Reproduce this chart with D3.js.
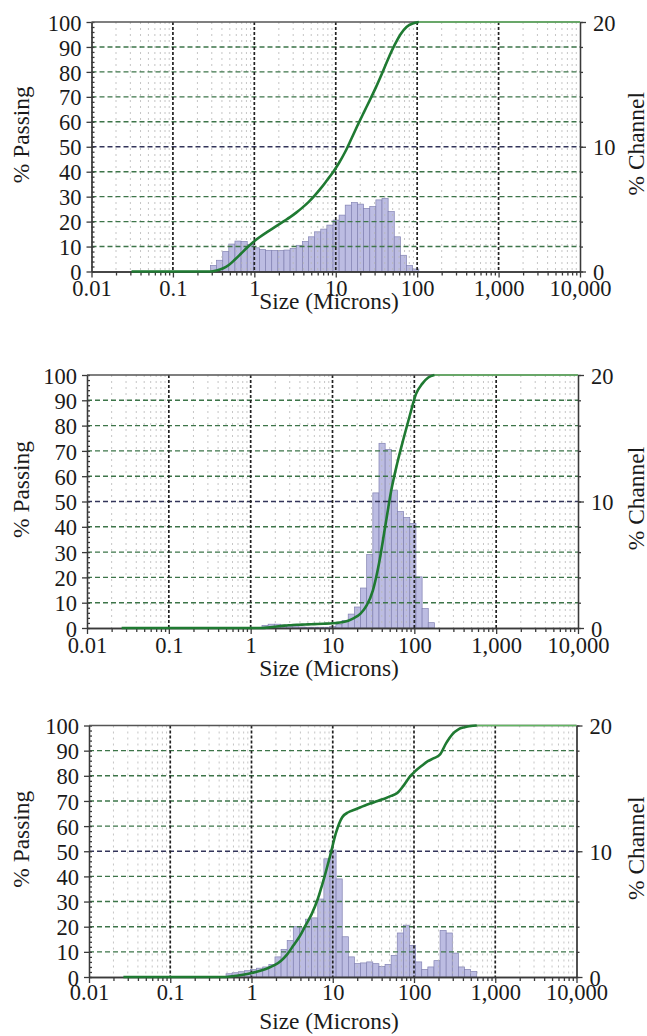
<!DOCTYPE html>
<html>
<head>
<meta charset="utf-8">
<script src="https://cdn.jsdelivr.net/npm/d3@7"></script>
<style>
body{margin:0;background:#fff;}
</style>
</head>
<body>
<svg id="chart" width="647" height="1036"></svg>
<script>
// channel lower edges in microns (bin i spans edges[i]..edges[i+1])
var edges=[0.243,0.289,0.344,0.409,0.486,0.578,0.688,0.818,0.972,1.156,1.375,1.635,1.945,2.312,2.75,3.27,3.889,4.625,5.5,6.541,7.778,9.25,
  11,13.08,15.56,18.5,22,26.16,31.11,37,44,52.33,62.23,74,88,104.7,124.5,148,176,209.3,248.9,296,352,418.6,497.8,592,704];

var xTickValues=[0.01,0.1,1,10,100,1000,10000];
var xTickLabels=["0.01","0.1","1","10","100","1,000","10,000"];
var passTicks=[0,10,20,30,40,50,60,70,80,90,100];
var chanTicks=[0,10,20];

// % channel per bin
var chanTop=[0,0.48,0.9,1.6,2.2,2.44,2.4,2.16,1.9,1.76,1.7,1.68,1.68,1.72,1.84,2.1,2.4,2.78,3.18,3.4,3.72,4.12,
  4.52,5.32,5.52,5.4,5.06,5.2,5.74,5.86,4.8,2.78,1.3,0.48,0.2,0,0,0,0,0,0,0,0,0,0,0];
var chanMid=[0,0,0,0,0,0,0,0,0,0,0.2,0.3,0.3,0.24,0.16,0.1,0.08,0.06,0.06,0.06,0.06,0.12,
  0.3,0.6,1.1,1.66,3.16,5.8,10.68,14.6,14.12,10.9,9.2,8.74,8.26,4.04,1.54,0.42,0,0,0,0,0,0,0,0];
var chanBot=[0,0,0,0,0.26,0.34,0.42,0.5,0.6,0.7,0.8,1.0,1.6,2.2,2.9,4.0,3.9,4.6,4.7,6.2,9.4,10.1,
  7.8,3.2,1.6,1.06,1.12,1.2,1.06,0.84,1.0,1.72,3.5,4.12,2.52,1.2,0.6,0.8,1.3,3.7,3.5,1.9,0.8,0.6,0.44,0];

// % passing at each edge
var passTop=[0,0,0.4,1.2,2.6,4.8,7.2,9.6,11.8,13.7,15.4,17,18.6,20.2,21.8,23.6,25.6,27.8,30.4,33.3,36.5,39.8,
  43.6,48,53.2,58.5,63.6,68.6,73.8,79.4,85.2,90.5,95,98,99.4,100,100,100,100,100,100,100,100,100,100,100,100];
var passMid=[0,0,0,0,0,0,0,0,0,0,0,0.2,0.5,0.8,1.0,1.2,1.3,1.4,1.5,1.6,1.7,1.8,
  2.0,2.3,2.9,4.0,5.7,8.9,14.8,25.5,40,54.5,65.5,75,84,92.5,96.5,99,100,100,100,100,100,100,100,100,100];
var passBot=[0,0,0,0,0,0.3,0.6,1.0,1.5,2.1,2.8,3.7,4.8,6.5,9,12.5,16,20.5,25,31,39,48,
  57.5,63.5,65.5,66.5,67.5,68.5,69.3,70.2,71,72,73.2,76,79.5,82,84,85.8,87,88.5,93,96.5,98.5,99.3,99.8,100,100];

// smallest size where the passing line starts
var startSizes=[0.031,0.0265,0.0265];

var FONT="'Liberation Serif','Times New Roman','DejaVu Serif Condensed','DejaVu Serif',serif";
var svg=d3.select("#chart");

//font check: size texts so they are as wide as in the picture
function textW(s){
  var t=svg.append("text").style("font-family",FONT).style("font-stretch","condensed").style("font-size","24px").text(s);
  var w=t.node().getComputedTextLength(); t.remove(); return w;
}
var titleFs=(24*140/textW("Size (Microns)")).toFixed(1)+"px";
var tickFs=(24*62/textW("10,000")).toFixed(1)+"px";

var panels=[
  {top:22,bottom:271.5,left:91.5,right:580,tickY:296,labelY:309},
  {top:375,bottom:628,left:87,right:578,tickY:653,labelY:676},
  {top:725.5,bottom:977,left:89,right:576.5,tickY:1000,labelY:1029}
];
var samples=[[chanTop,passTop],[chanMid,passMid],[chanBot,passBot]];

function isDecade(v){ var l=Math.log10(v); return Math.abs(l-Math.round(l))<1e-6; }

panels.forEach(function(p,k){
  var chan=samples[k][0], pass=samples[k][1];
  var g=svg.append("g");
  var x=d3.scaleLog().domain([0.01,10000]).range([p.left,p.right]);
  var y=d3.scaleLinear().domain([0,100]).range([p.bottom,p.top]);
  var y2=d3.scaleLinear().domain([0,20]).range([p.bottom,p.top]);
  var minors=x.ticks().filter(function(v){ return !isDecade(v); });

  //bars
  var bins=chan.map(function(v,i){ return {x0:edges[i],x1:edges[i+1],v:v}; }).filter(function(d){ return d.v>0; });
  g.append("g").selectAll("rect").data(bins).join("rect")
    .attr("x",function(d){ return x(d.x0); })
    .attr("width",function(d){ return x(d.x1)-x(d.x0); })
    .attr("y",function(d){ return y2(d.v); })
    .attr("height",function(d){ return y2(0)-y2(d.v); })
    .attr("fill","#bcbce2").attr("stroke","#8282b2").attr("stroke-width",0.7);

  //grid
  g.append("g").selectAll("line").data(minors).join("line")
    .attr("x1",x).attr("x2",x).attr("y1",p.top).attr("y2",p.bottom)
    .attr("stroke","#b8b8b8").attr("stroke-width",1).attr("stroke-dasharray","2,4").attr("opacity",0.8);
  g.append("g").selectAll("line").data(passTicks.filter(function(v){ return v>0&&v<100; })).join("line")
    .attr("x1",p.left).attr("x2",p.right).attr("y1",y).attr("y2",y)
    .attr("stroke",function(d){ return d==50?"#33355a":"#3d7549"; })
    .attr("stroke-width",1.4).attr("stroke-dasharray","5,3");
  g.append("g").selectAll("line").data(xTickValues.slice(1,-1)).join("line")
    .attr("x1",x).attr("x2",x).attr("y1",p.top).attr("y2",p.bottom)
    .attr("stroke","#222").attr("stroke-width",1.7).attr("stroke-dasharray","3,2");

  //axes
  var ax=g.append("g").attr("class","axes");
  ax.append("g").attr("transform","translate(0,"+p.bottom+")")
    .call(d3.axisBottom(x).tickValues(minors).tickSize(4).tickSizeOuter(0).tickFormat(""));
  var xa=ax.append("g").attr("transform","translate(0,"+p.bottom+")")
    .call(d3.axisBottom(x).tickValues(xTickValues).tickSize(6).tickSizeOuter(0).tickFormat(function(d,i){ return xTickLabels[i]; }));
  xa.selectAll("text").attr("y",p.tickY-p.bottom).attr("dy",0);

  ax.append("g").attr("transform","translate("+p.left+",0)")
    .call(d3.axisRight(y).tickValues(d3.range(0,101,2)).tickSize(3).tickSizeOuter(0).tickFormat(""));
  var ya=ax.append("g").attr("transform","translate("+p.left+",0)")
    .call(d3.axisLeft(y).tickValues(passTicks).tickSize(5).tickSizeOuter(0));
  ya.selectAll("text").attr("x",-10).attr("dy","0.36em");

  ax.append("g").attr("transform","translate("+p.right+",0)")
    .call(d3.axisRight(y2).tickValues(d3.range(0,21,2)).tickSize(3).tickSizeOuter(0).tickFormat(""));
  var y2a=ax.append("g").attr("transform","translate("+p.right+",0)")
    .call(d3.axisRight(y2).tickValues(chanTicks).tickSize(6).tickSizeOuter(0));
  y2a.selectAll("text").attr("x",13).attr("dy","0.36em");

  ax.selectAll("text").style("font-size",tickFs);
  ax.selectAll("path,line").attr("stroke","#3a3a3a").attr("stroke-width",1.3);
  g.append("line").attr("x1",p.left).attr("x2",p.right).attr("y1",p.top).attr("y2",p.top)
    .attr("stroke","#555").attr("stroke-width",1.3);

  //passing curve
  var pts=[[startSizes[k],0]].concat(edges.map(function(e,i){ return [e,pass[i]]; }));
  var full=pts.findIndex(function(d){ return d[1]>=100; });
  var rise=pts.slice(0,full+1);
  var line=d3.line().x(function(d){ return x(d[0]); }).y(function(d){ return y(d[1]); });
  g.append("path").attr("d",line([[pts[full][0],100],[x.domain()[1],100]]))
    .attr("fill","none").attr("stroke","#62b562").attr("stroke-width",1.6);
  g.append("path").attr("d",line.curve(d3.curveMonotoneX)(rise))
    .attr("fill","none").attr("stroke","#1f7a32").attr("stroke-width",2.6);

  //labels
  var cy=(p.top+p.bottom)/2;
  g.append("text").attr("transform","translate(29,"+(cy-12)+") rotate(-90)").attr("text-anchor","middle")
    .style("font-size",titleFs).text("% Passing");
  g.append("text").attr("transform","translate(644,"+(cy-3)+") rotate(-90)").attr("text-anchor","middle")
    .style("font-size",titleFs).text("% Channel");
  g.append("text").attr("x",329).attr("y",p.labelY).attr("text-anchor","middle")
    .style("font-size",titleFs).text("Size (Microns)");
});
svg.selectAll("text").style("font-family",FONT).style("font-stretch","condensed").attr("fill","#1a1a1a");
</script>
</body>
</html>
